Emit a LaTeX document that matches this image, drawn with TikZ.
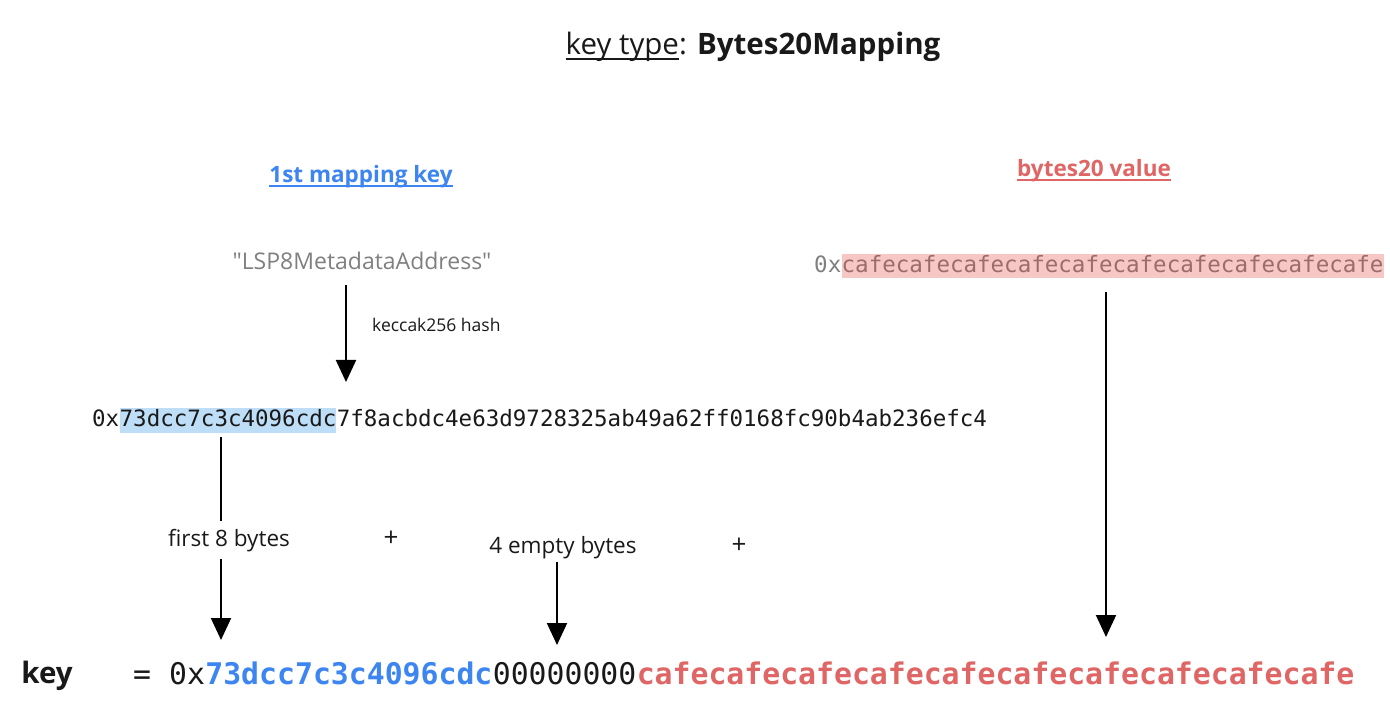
\documentclass[tikz,border=0pt]{standalone}
\usepackage{fontspec}
\setmainfont{Open Sans}
\newfontfamily\osraw{Open Sans}
\setmonofont{DejaVu Sans Mono}
\usetikzlibrary{arrows.meta}
\definecolor{kblue}{RGB}{61,133,240}
\definecolor{kred}{RGB}{224,102,102}
\definecolor{kgray}{RGB}{128,128,128}
\definecolor{hlblue}{RGB}{190,222,247}
\definecolor{hlpink}{RGB}{246,199,196}
\definecolor{rosegray}{RGB}{156,108,108}
\definecolor{ink}{RGB}{25,25,25}
\newcommand\myul[1]{\setbox0\hbox{#1}\rlap{\rule[-0.17em]{\wd0}{0.075em}}\box0}
\begin{document}
\begin{tikzpicture}[x=1pt,y=-1pt,
  txt/.style={inner sep=0pt, anchor=base, text=ink},
  code/.style={inner sep=0pt, anchor=base west, text=ink, font=\ttfamily\fontsize{22.5}{27}\selectfont},
  codeb/.style={inner sep=0pt, anchor=base west, text=ink, font=\ttfamily\fontsize{29.8}{36}\selectfont},
  arr/.style={line width=2pt, draw=black, -{Triangle[width=20pt,length=22pt]}}]
\useasboundingbox (0,0) rectangle (1390,719);
\fill[white] (0,0) rectangle (1390,719);

% title
\node[txt, font=\fontsize{29.5}{36}\selectfont] (title) at (753,55) {\myul{key type}: \textbf{Bytes20Mapping}};

% headings
\node[txt, text=kblue, font=\bfseries\fontsize{22.5}{27}\selectfont] (mk) at (361,183) {\myul{1st mapping key}};
\node[txt, text=kred, font=\bfseries\fontsize{22.5}{27}\selectfont] (bv) at (1094,177) {\myul{bytes20 value}};

% source string
\node[txt, text=kgray, font=\osraw\fontsize{23}{28}\selectfont] (lsp) at (362,270) {"LSP8MetadataAddress"};
\node[txt, font=\fontsize{17.5}{21}\selectfont, anchor=base west] (kec) at (372,332) {keccak256 hash};

% hash line
\node[code] (h0) at (92,426) {0x};
\node[code, fill=hlblue, text height=18pt, text depth=7pt] (h1) at (h0.base east) {73dcc7c3c4096cdc};
\node[code] (h2) at (h1.base east) {7f8acbdc4e63d9728325ab49a62ff0168fc90b4ab236efc4};

% value line
\node[code, text=kgray] (v0) at (814,273) {0x};
\node[code, fill=hlpink, text=rosegray, text height=19pt, text depth=5pt] (v1) at (v0.base east) {cafecafecafecafecafecafecafecafecafecafe};

% key line
\node[txt, font=\bfseries\fontsize{29.5}{34}\selectfont] (key) at (47,683) {key};
\node[codeb] (b0) at (133,684) {= 0x};
\node[codeb, text=kblue, font=\ttfamily\bfseries\fontsize{29.8}{36}\selectfont] (b1) at (b0.base east) {73dcc7c3c4096cdc};
\node[codeb] (b2) at (b1.base east) {00000000};
\node[codeb, text=kred, font=\ttfamily\bfseries\fontsize{29.8}{36}\selectfont] (b3) at (b2.base east) {cafecafecafecafecafecafecafecafecafecafe};

% arrows
\coordinate (k1) at (346,285);
\coordinate (k2) at (346,382);
\draw[arr] (k1) -- (k2);

\coordinate (f1) at (221,437);
\coordinate (f2) at (221,640);
\draw[arr] (f1) -- (f2);
\node[txt, fill=white, inner ysep=8pt, inner xsep=2pt, font=\fontsize{22.5}{27}\selectfont] (f8) at (229,546) {first 8 bytes};

\coordinate (e1) at (557,562);
\coordinate (e2) at (557,645);
\draw[arr] (e1) -- (e2);
\node[txt, font=\fontsize{22.5}{27}\selectfont] (e4) at (563,553) {4 empty bytes};

\node[txt, font=\fontsize{26}{30}\selectfont] (p1) at (391,546) {+};
\node[txt, font=\fontsize{26}{30}\selectfont] (p2) at (739,553) {+};

\coordinate (c1) at (1106,292);
\coordinate (c2) at (1106,637);
\draw[arr] (c1) -- (c2);
\end{tikzpicture}
\end{document}
